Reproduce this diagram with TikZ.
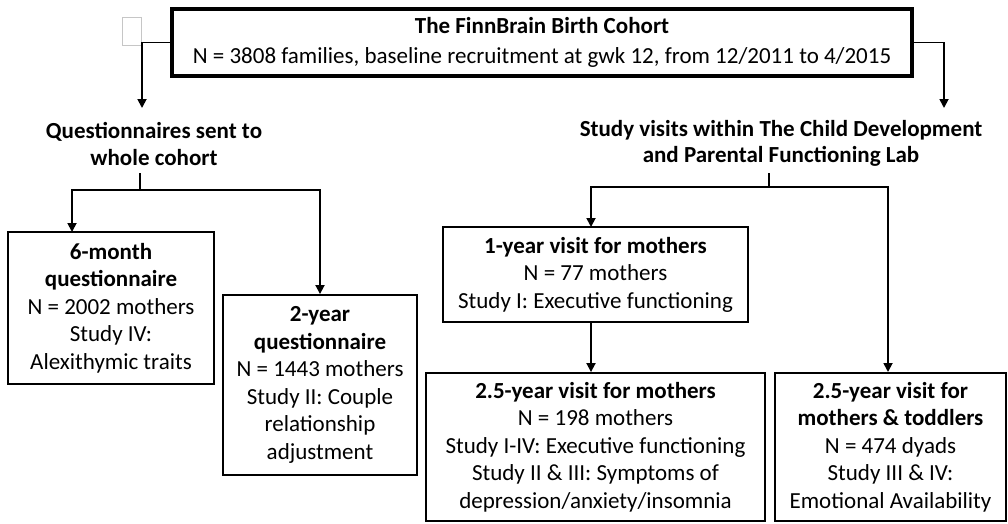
\documentclass[tikz,border=0pt]{standalone}
\usepackage{fontspec}
\setmainfont{Carlito}
\usetikzlibrary{arrows.meta}
\begin{document}
\begin{tikzpicture}[x=1pt,y=-1pt,
 box/.style={draw,line width=1.9pt,align=center,inner sep=0pt,font=\fontsize{23}{27.6}\selectfont},
 hd/.style={align=center,inner sep=0pt,font=\bfseries\fontsize{23}{26.5}\selectfont},
 arr/.style={line width=1.8pt,-{Triangle[width=9pt,length=9pt]}},
 ln/.style={line width=1.8pt}]
\useasboundingbox (0,0) rectangle (1008,523);
\node[box,line width=3.8pt,minimum width=740pt,minimum height=67pt,font=\fontsize{23}{30.5}\selectfont] (top) at (542,42.5)
 {\textbf{The FinnBrain Birth Cohort}\\N = 3808 families, baseline recruitment at gwk 12, from 12/2011 to 4/2015};
\node[draw=gray!45,line width=0.8pt,minimum width=19pt,minimum height=28pt,inner sep=0pt] (gr) at (131.5,31) {};
\node[hd] (qh) at (154,144) {Questionnaires sent to\\whole cohort};
\node[hd] (sh) at (781,143.5) {Study visits within The Child Development\\and Parental Functioning Lab};
\node[box,minimum width=206pt,minimum height=152pt] (m6) at (111,308)
 {\textbf{6-month}\\\textbf{questionnaire}\\N = 2002 mothers\\Study IV:\\Alexithymic traits};
\node[box,minimum width=194pt,minimum height=180pt] (y2) at (320,385)
 {\textbf{2-year}\\\textbf{questionnaire}\\N = 1443 mothers\\Study II: Couple\\relationship\\adjustment};
\node[box,minimum width=305pt,minimum height=95pt] (y1) at (595.5,274.5)
 {\textbf{1-year visit for mothers}\\N = 77 mothers\\Study I: Executive functioning};
\node[box,minimum width=339pt,minimum height=148pt] (m25) at (595.5,447)
 {\textbf{2.5-year visit for mothers}\\N = 198 mothers\\Study I-IV: Executive functioning\\Study II \& III: Symptoms of\\depression/anxiety/insomnia};
\node[box,minimum width=231pt,minimum height=148pt] (td) at (890.5,447)
 {\textbf{2.5-year visit for}\\\textbf{mothers \& toddlers}\\N = 474 dyads\\Study III \& IV:\\Emotional Availability};
% coordinates
\coordinate (tL) at (142,108);
\coordinate (tR) at (944,108);
\coordinate (qsrc) at (140,173);
\coordinate (jL) at (140,190);
\coordinate (m6in) at (72,232);
\coordinate (ssrc) at (769,173);
\coordinate (jR) at (769,187);
\coordinate (y1in) at (591,227);
\coordinate (tdin) at (888,372);
% connectors
\draw[arr] (top.west) -| (tL);
\draw[arr] (top.east) -| (tR);
\draw[ln] (qsrc) -- (jL);
\draw[arr] (jL) -| (m6in);
\draw[arr] (jL) -| (y2.north);
\draw[ln] (ssrc) -- (jR);
\draw[arr] (jR) -| (y1in);
\draw[arr] (jR) -| (tdin);
\draw[arr] ([xshift=-4.5pt]y1.south) -- ([xshift=-4.5pt]m25.north);
\end{tikzpicture}
\end{document}
